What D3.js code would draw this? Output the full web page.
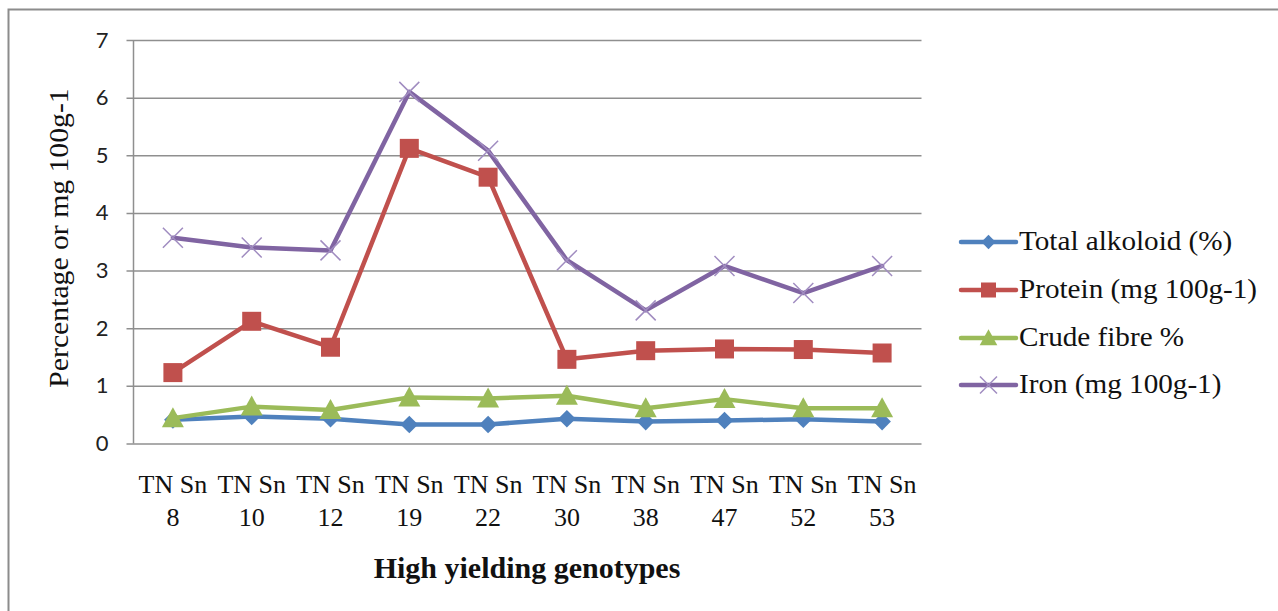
<!DOCTYPE html>
<html>
<head>
<meta charset="utf-8">
<script src="https://cdn.jsdelivr.net/npm/d3@7"></script>
<style>
  html, body { margin: 0; padding: 0; background: #fff; }
  svg { display: block; }
</style>
</head>
<body>
<svg id="chart" width="1278" height="611"></svg>
<script>
// Genotypes on the category axis
const genotypes = ["8", "10", "12", "19", "22", "30", "38", "47", "52", "53"];
const yTicks = [0, 1, 2, 3, 4, 5, 6, 7];

// Nutritional traits per genotype
const totalAlkoloid = [0.41, 0.47, 0.43, 0.33, 0.33, 0.43, 0.38, 0.40, 0.42, 0.38];
const protein       = [1.23, 2.12, 1.67, 5.12, 4.62, 1.46, 1.61, 1.64, 1.63, 1.57];
const crudeFibre    = [0.44, 0.64, 0.58, 0.80, 0.78, 0.83, 0.61, 0.77, 0.61, 0.61];
const iron          = [3.57, 3.40, 3.35, 6.10, 5.08, 3.18, 2.31, 3.08, 2.61, 3.08];

const seriesNames = ["Total alkoloid (%)", "Protein (mg 100g-1)", "Crude fibre %", "Iron (mg 100g-1)"];
const seriesValues = [totalAlkoloid, protein, crudeFibre, iron];
const seriesColors = ["#4F81BD", "#C0504D", "#9BBB59", "#8064A2"];
const seriesMarkers = ["diamond", "square", "triangle", "cross"];

const SERIF = "Liberation Serif";
const SANS = "Lato";

const svg = d3.select("#chart");

// text helper: placed by a wrapping group, optionally stretched horizontally
function label(parent, str, opts) {
  const g = parent.append("g").attr("transform", opts.transform);
  return g.append("text")
    .style("font-family", opts.family)
    .style("font-size", opts.size + "px")
    .style("font-weight", opts.weight || "normal")
    .attr("fill", "#111")
    .attr("text-anchor", opts.anchor || "start")
    .attr("transform", `scale(${opts.sx || 1},1)`)
    .text(str);
}

// outer chart frame
svg.append("rect")
  .attr("x", 8.5).attr("y", 9.5)
  .attr("width", 1290).attr("height", 620)
  .attr("fill", "none").attr("stroke", "#8c8c8c").attr("stroke-width", 2);

const plot = { left: 133.5, right: 921.5, top: 40, bottom: 443.5 };

const x = d3.scaleBand().domain(genotypes).range([plot.left, plot.right]);
const y = d3.scaleLinear().domain([0, 7]).range([plot.bottom, plot.top]);
const cx = g => x(g) + x.bandwidth() / 2;

// horizontal gridlines + left ticks via d3.axisLeft
const yAxis = d3.axisLeft(y).tickValues(yTicks).tickSize(plot.right - plot.left + 7).tickPadding(18)
  .tickFormat(d3.format("d"));
const gy = svg.append("g").attr("transform", `translate(${plot.right},0)`).call(yAxis);
gy.select(".domain").remove();
gy.selectAll(".tick line").attr("stroke", "#8f8f8f").attr("stroke-width", 1.5);
gy.selectAll(".tick text")
  .attr("font-family", null).attr("font-size", null)
  .style("font-family", SANS).style("font-size", "22px")
  .attr("fill", "#222");

// vertical axis line
svg.append("line")
  .attr("x1", plot.left).attr("x2", plot.left)
  .attr("y1", plot.top).attr("y2", plot.bottom)
  .attr("stroke", "#8f8f8f").attr("stroke-width", 1.5);

// category labels (two lines each)
const xl = svg.append("g");
genotypes.forEach(g => {
  label(xl, "TN Sn", { transform: `translate(${cx(g)},493)`, family: SERIF, size: 26, sx: 1.0, anchor: "middle" });
  label(xl, g, { transform: `translate(${cx(g)},526)`, family: SERIF, size: 26, sx: 1.0, anchor: "middle" });
});

// axis titles
label(svg, "Percentage or mg 100g-1", {
  transform: "translate(68,238) rotate(-90)", family: SERIF, size: 27, sx: 1.1, anchor: "middle"
});
label(svg, "High yielding genotypes", {
  transform: "translate(527,578)", family: SERIF, size: 30, weight: "bold", sx: 1.0, anchor: "middle"
});

// marker drawing
function drawMarker(sel, kind, color, s) {
  if (kind === "diamond") {
    sel.append("path").attr("d", `M0,${-s*0.55}L${s*0.55},0L0,${s*0.55}L${-s*0.55},0Z`).attr("fill", color);
  } else if (kind === "square") {
    sel.append("rect").attr("x", -s/2).attr("y", -s/2).attr("width", s).attr("height", s).attr("fill", color);
  } else if (kind === "triangle") {
    sel.append("path").attr("d", `M0,${-s*0.55}L${s*0.55},${s*0.45}L${-s*0.55},${s*0.45}Z`).attr("fill", color);
  } else if (kind === "cross") {
    const h = s / 2;
    sel.append("path").attr("d", `M${-h},${-h}L${h},${h}M${-h},${h}L${h},${-h}`)
      .attr("stroke", "#A08CC0").attr("stroke-width", 1.5).attr("fill", "none");
  }
}

const markerSize = [16, 19, 20, 20];
const line = d3.line().x((d, i) => cx(genotypes[i])).y(d => y(d));

seriesValues.forEach((vals, si) => {
  const g = svg.append("g");
  g.append("path").datum(vals).attr("d", line)
    .attr("fill", "none").attr("stroke", seriesColors[si])
    .attr("stroke-width", 4.5).attr("stroke-linejoin", "round").attr("stroke-linecap", "round");
  vals.forEach((v, i) => {
    const m = g.append("g").attr("transform", `translate(${cx(genotypes[i])},${y(v)})`);
    drawMarker(m, seriesMarkers[si], seriesColors[si], markerSize[si]);
  });
});

// legend
const legendRows = [242, 290, 338, 385];
const lg = svg.append("g");
seriesNames.forEach((name, i) => {
  const row = lg.append("g").attr("transform", `translate(0,${legendRows[i]})`);
  row.append("line").attr("x1", 961).attr("x2", 1016).attr("y1", 0).attr("y2", 0)
    .attr("stroke", seriesColors[i]).attr("stroke-width", 4.5).attr("stroke-linecap", "round");
  const m = row.append("g").attr("transform", "translate(988.5,0)");
  drawMarker(m, seriesMarkers[i], seriesColors[i], [13, 15, 16, 17][i]);
  label(row, name, { transform: "translate(1019,7.5)", family: SERIF, size: 27, sx: 1.08 });
});
</script>
</body>
</html>
